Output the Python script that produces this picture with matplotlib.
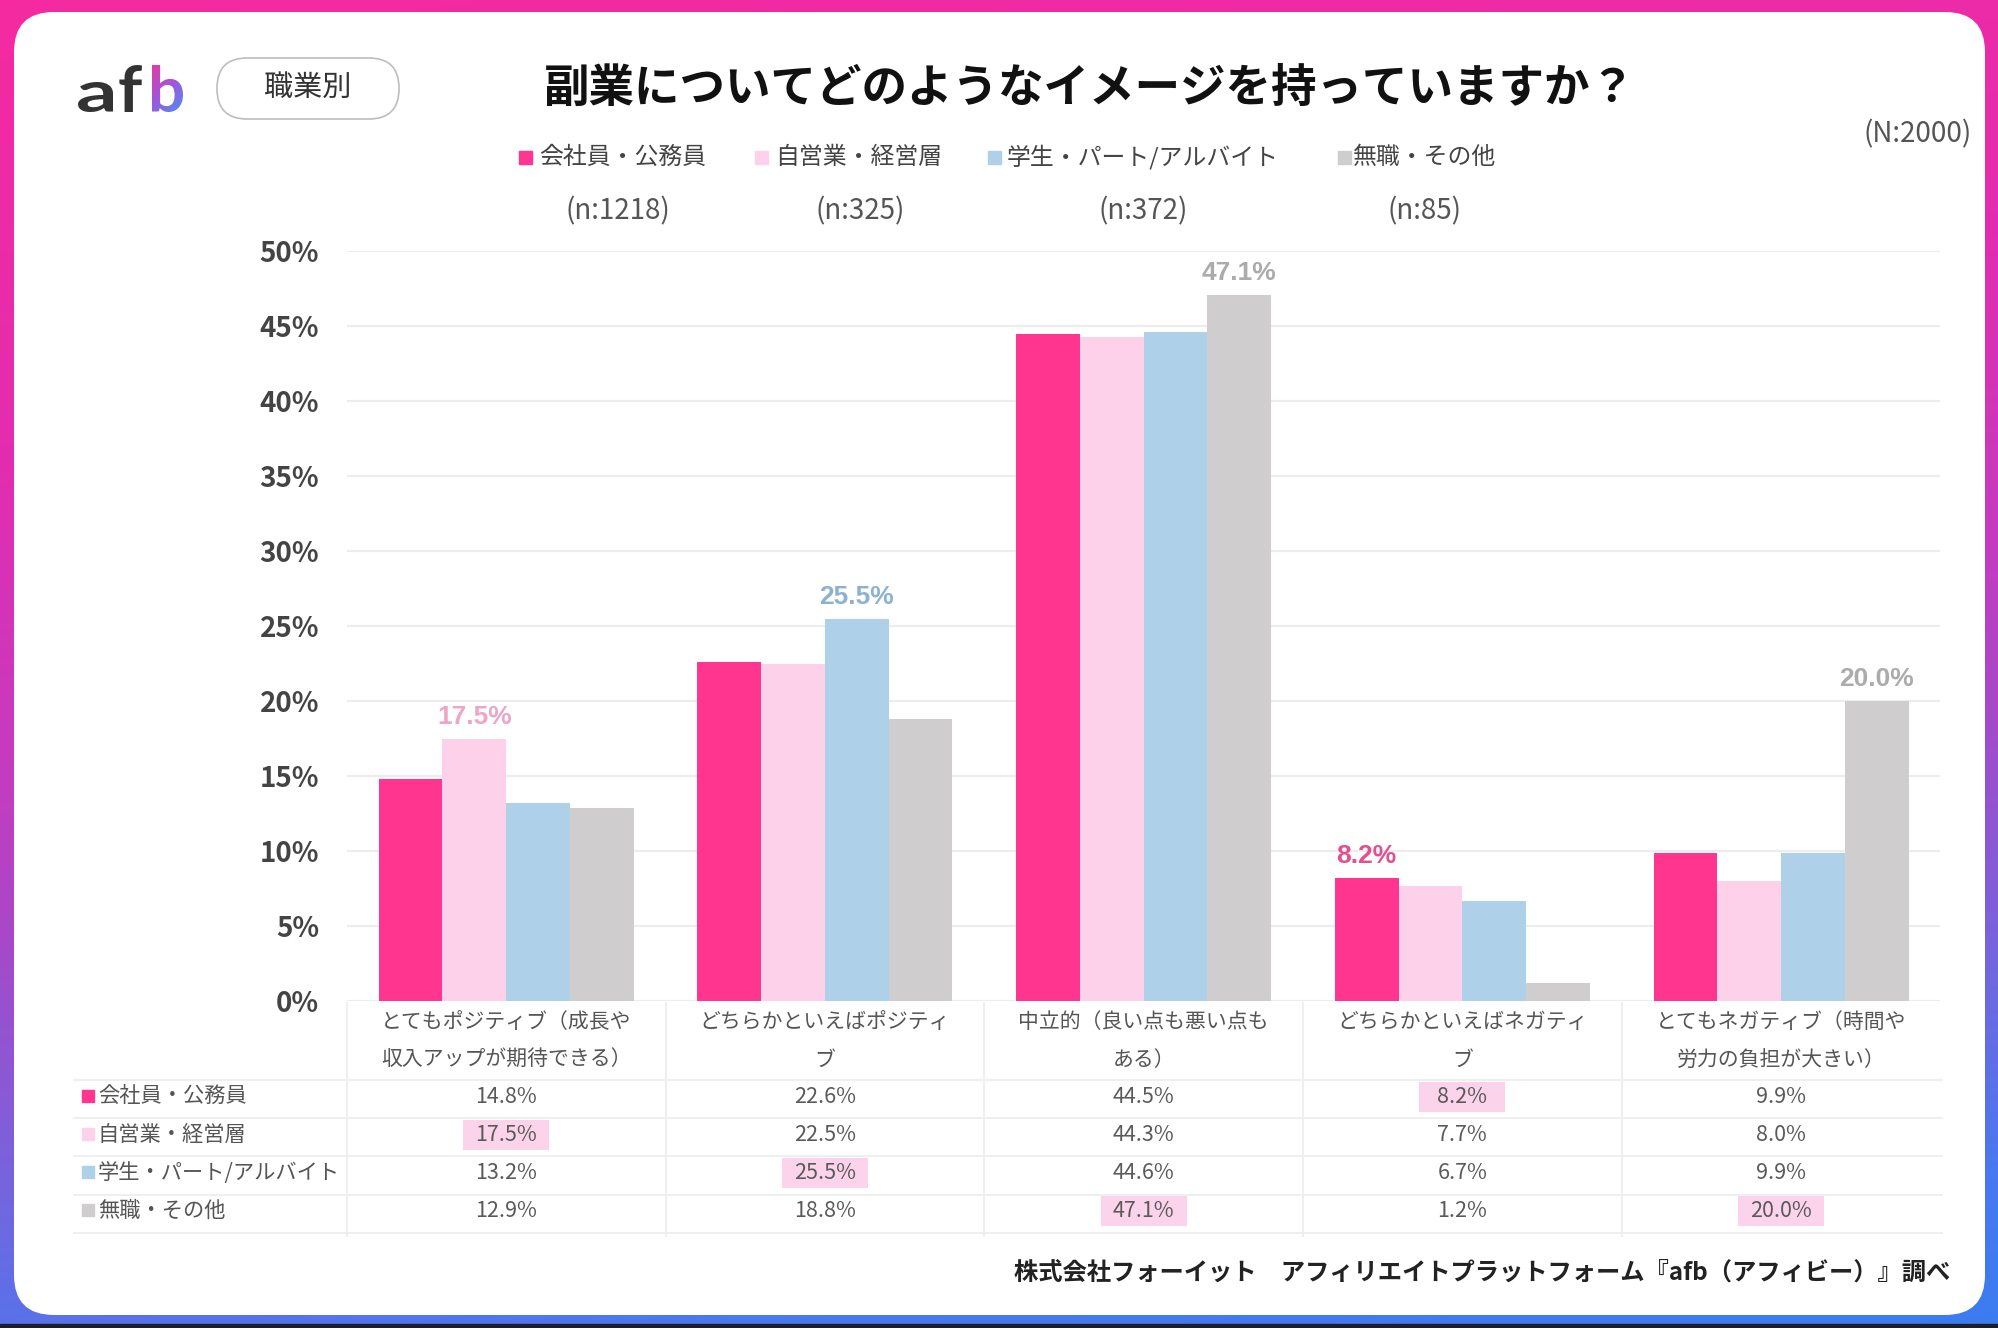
import numpy as np
import matplotlib
matplotlib.use("Agg")
import matplotlib.pyplot as plt
from matplotlib import font_manager as fm
from matplotlib.patches import FancyBboxPatch, Rectangle, PathPatch
from matplotlib.path import Path
from matplotlib.textpath import TextPath
from matplotlib.font_manager import FontProperties
from matplotlib.colors import LinearSegmentedColormap
import matplotlib.transforms as mtransforms

# ---------------- data ----------------
title = "副業についてどのようなイメージを持っていますか？"
tag = "職業別"
total_n = "(N:2000)"
footer = "株式会社フォーイット　アフィリエイトプラットフォーム『afb（アフィビー）』調べ"

category_lines = [
    ["とてもポジティブ（成長や", "収入アップが期待できる）"],
    ["どちらかといえばポジティ", "ブ"],
    ["中立的（良い点も悪い点も", "ある）"],
    ["どちらかといえばネガティ", "ブ"],
    ["とてもネガティブ（時間や", "労力の負担が大きい）"],
]
series_names = ["会社員・公務員", "自営業・経営層", "学生・パート/アルバイト", "無職・その他"]
sample_sizes = ["(n:1218)", "(n:325)", "(n:372)", "(n:85)"]

v_employee = [14.8, 22.6, 44.5, 8.2, 9.9]
v_selfemployed = [17.5, 22.5, 44.3, 7.7, 8.0]
v_student = [13.2, 25.5, 44.6, 6.7, 9.9]
v_other = [12.9, 18.8, 47.1, 1.2, 20.0]

yticks = [0, 5, 10, 15, 20, 25, 30, 35, 40, 45, 50]
ytick_labels = ["0%", "5%", "10%", "15%", "20%", "25%", "30%", "35%", "40%", "45%", "50%"]

# ---------------- styles ----------------
bar_colors = ["#FF3590", "#FDD1EA", "#AED1E9", "#CFCDCE"]
label_colors = ["#E2508F", "#EBA6C8", "#8DB2CF", "#ABABAB"]

plt.rcParams["font.family"] = ["Noto Sans CJK JP", "DejaVu Sans"]
names = {f.name for f in fm.fontManager.ttflist}
if "Liberation Sans Narrow" in names:
    ann_font, ann_size = "Liberation Sans Narrow", 22
else:
    ann_font, ann_size = "Liberation Sans", 19

W, H = 1999, 1328
fig = plt.figure(figsize=(W / 100, H / 100), dpi=100)

# background / frame axes in pixel coordinates (y down)
bg = fig.add_axes([0, 0, 1, 1], zorder=0)
bg.set_xlim(0, W)
bg.set_ylim(H, 0)
bg.axis("off")

ny, nx = 200, 300
yy, xx = np.mgrid[0:ny, 0:nx]
t = 0.85 * yy / (ny - 1) + 0.15 * xx / (nx - 1)
frame_cmap = LinearSegmentedColormap.from_list(
    "frame",
    [(0.0, "#F52AA0"), (0.3, "#E22DB0"), (0.5, "#C43CC0"), (0.6, "#A848C8"),
     (0.78, "#7068E0"), (0.9, "#4A78F0"), (1.0, "#3B7CF0")])
bg.imshow(t, cmap=frame_cmap, vmin=0, vmax=1, extent=(0, W, H, 0),
          aspect="auto", interpolation="bilinear", zorder=0)
bg.add_patch(Rectangle((0, 1324), W, 4, color="#1E1E2A", zorder=0.5))
bg.add_patch(FancyBboxPatch((14, 12), 1971, 1303,
                            boxstyle="round,pad=0,rounding_size=40",
                            fc="white", ec="none", zorder=1))

# ---------------- main chart ----------------
axL, axR, axT, axB = 346.8, 1940.4, 251.0, 1001.0
ax = fig.add_axes([axL / W, 1 - axB / H, (axR - axL) / W, (axB - axT) / H], zorder=2)
ax.patch.set_alpha(0)

all_vals = [v_employee, v_selfemployed, v_student, v_other]
x = np.arange(len(category_lines))
bw = 0.2
offsets = [-0.3, -0.1, 0.1, 0.3]
for i, vals in enumerate(all_vals):
    ax.bar(x + offsets[i], vals, bw, color=bar_colors[i], zorder=2, linewidth=0)

ax.set_xlim(-0.5, len(x) - 0.5)
ax.set_ylim(0, 50)
ax.set_yticks(yticks)
ax.set_yticklabels(ytick_labels, fontsize=20, fontweight="bold", color="#444444")
ax.tick_params(axis="y", length=0, pad=20)
ax.set_xticks([])
ax.set_axisbelow(True)
ax.yaxis.grid(True, color="#EDEDED", linewidth=1.6)
for s in ax.spines.values():
    s.set_visible(False)

vals_arr = np.array(all_vals)
max_idx = vals_arr.argmax(axis=0)
for g in range(len(x)):
    si = max_idx[g]
    v = vals_arr[si, g]
    ax.annotate(f"{v:.1f}%", (g + offsets[si], v), xytext=(0, 7),
                textcoords="offset points", ha="center", va="bottom",
                fontsize=ann_size, fontweight="bold", family=ann_font,
                color=label_colors[si], zorder=3)

# ---------------- table ----------------
trans = mtransforms.blended_transform_factory(ax.transData, bg.transData)
grid_c = "#EEEEEE"
for xb in [-0.5, 0.5, 1.5, 2.5, 3.5]:
    bg.plot([xb, xb], [1003, 1236], transform=trans, color=grid_c, lw=1.3,
            zorder=2, clip_on=False)
for yl in [1080, 1118, 1156, 1195, 1233]:
    bg.plot([74, 1942], [yl, yl], color=grid_c, lw=1.3, zorder=2, clip_on=False)

for g, lines in enumerate(category_lines):
    for k, line in enumerate(lines):
        bg.text(g, 1022 + 38 * k, line, transform=trans, ha="center", va="center",
                fontsize=15, color="#555555", zorder=3)

row_y = [1097, 1135, 1173, 1211]
for i, name in enumerate(series_names):
    bg.add_patch(Rectangle((82, row_y[i] - 7), 12, 12, color=bar_colors[i], zorder=3))
    bg.text(98, row_y[i], name, ha="left", va="center", fontsize=15.3,
            color="#555555", zorder=3)
    for g in range(len(x)):
        if max_idx[g] == i:
            bg.add_patch(Rectangle((g - 0.135, row_y[i] - 15), 0.27, 30,
                                   transform=trans, fc="#FBD3EA", ec="none", zorder=2.5))
        bg.text(g, row_y[i], f"{all_vals[i][g]:.1f}%", transform=trans,
                ha="center", va="center", fontsize=15.5, color="#5A5A5A", zorder=3)

# ---------------- header ----------------
bg.text(1090, 89, title, ha="center", va="center", fontsize=32.8,
        fontweight="bold", color="#111111", zorder=3)

legend_sq_x = [519, 755, 988, 1338]
legend_tx_x = [539, 775, 1007, 1353]
n_x = [618, 860, 1143, 1425]
for i, name in enumerate(series_names):
    bg.add_patch(Rectangle((legend_sq_x[i], 151), 13, 13, color=bar_colors[i], zorder=3))
    bg.text(legend_tx_x[i], 157, name, ha="left", va="center", fontsize=17.2,
            color="#444444", zorder=3)
    bg.text(n_x[i], 211, sample_sizes[i], ha="center", va="center", fontsize=20,
            color="#555555", zorder=3)

bg.text(1972, 134, total_n, ha="right", va="center", fontsize=20,
        color="#555555", zorder=3)

# tag pill
bg.add_patch(FancyBboxPatch((217, 58), 182, 61,
                            boxstyle="round,pad=0,rounding_size=30",
                            fc="white", ec="#BDBDBD", lw=1.2, zorder=3))
bg.text(308, 88, tag, ha="center", va="center", fontsize=21, color="#333333", zorder=4)

# logo
logo_prop = FontProperties(family="Lato", weight="bold")


def glyph_path(ch, box):
    tp = TextPath((0, 0), ch, size=100, prop=logo_prop)
    v = tp.vertices.copy()
    x0, y0 = v.min(0)
    x1, y1 = v.max(0)
    bx0, by0, bx1, by1 = box
    nv = np.empty_like(v)
    nv[:, 0] = bx0 + (v[:, 0] - x0) / (x1 - x0) * (bx1 - bx0)
    nv[:, 1] = by1 - (v[:, 1] - y0) / (y1 - y0) * (by1 - by0)
    return Path(nv, tp.codes)


for ch, box in [("a", (76, 82, 113, 112)), ("f", (118, 65, 142, 112))]:
    bg.add_patch(PathPatch(glyph_path(ch, box), fc="#333333", ec="none", zorder=4))
b_box = (148, 65, 183, 112)
b_patch = PathPatch(glyph_path("b", b_box), fc="none", ec="none", transform=bg.transData)
gy, gx = np.mgrid[0:50, 0:50]
gt = 0.6 * gy / 49 + 0.4 * gx / 49
logo_cmap = LinearSegmentedColormap.from_list("logo", ["#E8389E", "#A455D8", "#4F8CF2"])
im = bg.imshow(gt, cmap=logo_cmap, extent=(b_box[0], b_box[2], b_box[3], b_box[1]),
               aspect="auto", interpolation="bilinear", zorder=4)
im.set_clip_path(b_patch)

# footer
bg.text(1950, 1273, footer, ha="right", va="center", fontsize=17.5,
        fontweight="bold", color="#222222", zorder=3)

fig.savefig("out.png", dpi=100)
